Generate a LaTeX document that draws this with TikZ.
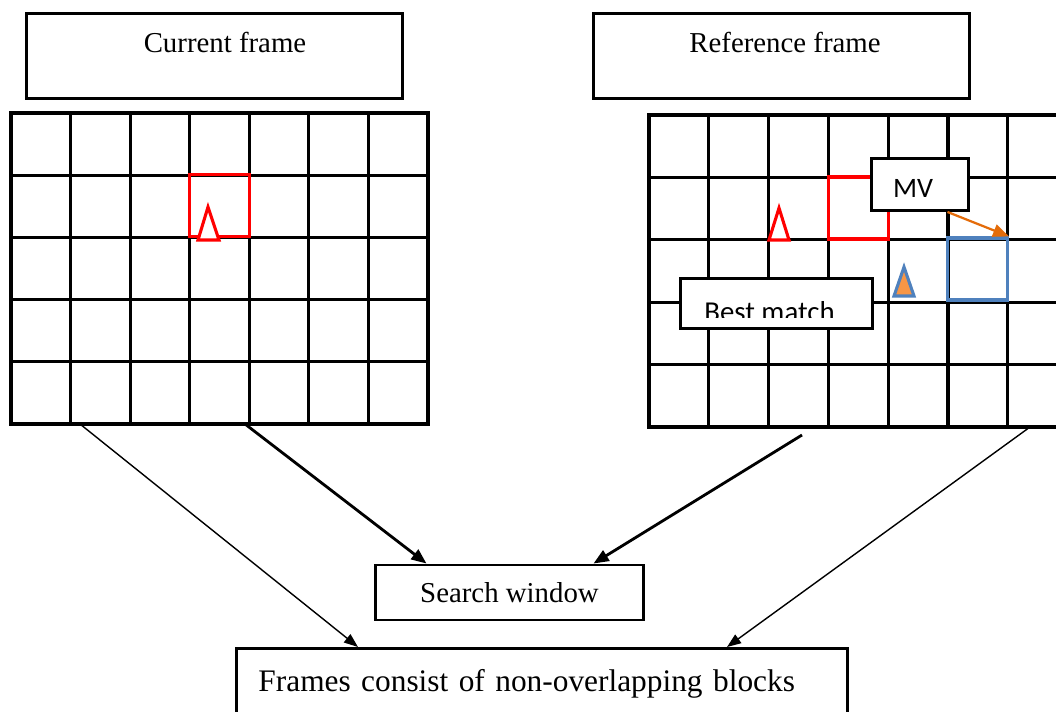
\documentclass[tikz,border=0pt]{standalone}
\usepackage{fontspec}
\setmainfont{Liberation Serif}
\newfontfamily\calibrifont{Carlito}
\usepackage{tikz}
\usetikzlibrary{arrows.meta,calc}
\definecolor{blockred}{HTML}{FF0000}
\definecolor{matchblue}{HTML}{4F81BD}
\definecolor{mvorange}{HTML}{E46C0A}
\definecolor{markorange}{HTML}{F79646}

\begin{document}
\begin{tikzpicture}[x=0.025cm,y=-0.025cm,
  every node/.style={font=\fontsize{20.5}{24}\selectfont,inner sep=0pt},
  gridline/.style={line width=2.2pt,line cap=rect},
  framebox/.style={draw,line width=2.1pt,fill=white},
  calloutbox/.style={draw,line width=2.1pt,fill=white,font=\calibrifont\fontsize{20}{24}\selectfont},
  blocksq/.style={line width=2.2pt,minimum width=1.5cm,minimum height=1.55cm},
  blockmark/.style={line width=2.2pt},
  thinarrow/.style={-{Triangle[length=0.35cm,width=0.26cm]},line width=1pt},
  thickarrow/.style={-{Triangle[length=0.38cm,width=0.3cm]},line width=2pt}]
  \useasboundingbox (0,0) rectangle (1056,711);
  \clip (0,0) rectangle (1056,711);

  % current frame grid
  \foreach \i in {0,...,7}
    \draw[gridline] ({11+59.57*\i},113) -- ({11+59.57*\i},424);
  \foreach \j in {0,...,5}
    \draw[gridline] (11,{113+62.2*\j}) -- (428,{113+62.2*\j});
  % reference frame grid
  \foreach \i in {0,...,7}
    \draw[gridline] ({649+59.8*\i},115) -- ({649+59.8*\i},427);
  \foreach \j in {0,...,5}
    \draw[gridline] (649,{115+62.4*\j}) -- (1068,{115+62.4*\j});

  \node[blocksq,draw=blockred] (curblock) at (219.5,205.5) {};
  \node[blocksq,draw=blockred] (refblock) at (858.5,208) {};
  \node[blocksq,draw=matchblue] (match) at (977.5,269) {};
  \draw[blockmark,blockred,fill=white] (208,207) -- (219,240) -- (198,240) -- cycle;
  \draw[blockmark,blockred,fill=white] (779,208) -- (789,240) -- (769,240) -- cycle;
  \draw[blockmark,matchblue,fill=markorange] (904,267) -- (914,296) -- (894,296) -- cycle;

  \coordinate (curout1) at (80,424);
  \coordinate (curout2) at (245,424);
  \coordinate (refout1) at (802,435);
  \coordinate (refout2) at (1030,427);

  \node[framebox,anchor=north west,minimum width=9.4cm,minimum height=2.125cm] (curframe) at (25,12) {};
  \node[anchor=base] (curframetext) at (225,52) {Current frame};
  \node[framebox,anchor=north west,minimum width=9.4cm,minimum height=2.125cm] (refframe) at (592,12) {};
  \node[anchor=base] (refframetext) at (785,52) {Reference frame};
  \node[framebox,minimum width=6.675cm,minimum height=1.375cm] (search) at (509.5,592.5) {Search window};
  \node[framebox,anchor=north west,text width=14.175cm,inner xsep=0.55cm,text height=1.075cm,text depth=1.2cm,align=left,font=\fontsize{22.3}{26}\selectfont] (blocks) at (235,647) {Frames consist of non-overlapping blocks};

  \draw[thinarrow] (curout1) -- ($(blocks.north west)+(123,0)$);
  \draw[thickarrow] (curout2) -- ($(search.north west)+(52,0)$);
  \draw[thickarrow] (refout1) -- ($(search.north west)+(219,0)$);
  \draw[thinarrow] (refout2) -- ($(blocks.north west)+(492,0)$);

  \node[calloutbox,anchor=north west,minimum width=2.425cm,minimum height=1.3cm] (mv) at (870,157) {};
  \node[font=\calibrifont\fontsize{20}{24}\selectfont,anchor=base] (mvtext) at (913,197) {MV};
  \draw[mvorange,line width=1.6pt,-{Triangle[length=0.4cm,width=0.32cm]}] ($(mv.south)+(27.5,0)$) -- (match.north east);
  \node[calloutbox,anchor=north west,minimum width=4.8cm,minimum height=1.25cm] (bestmatch) at (679,277) {};
  \begin{scope}
    \clip (bestmatch.north west) rectangle ($(bestmatch.south east)+(0,-12)$);
    \node[font=\calibrifont\fontsize{20.5}{24}\selectfont,anchor=base] (bestmatchtext) at ($(bestmatch.south)+(-7,-8)$) {Best match};
  \end{scope}
\end{tikzpicture}
\end{document}
